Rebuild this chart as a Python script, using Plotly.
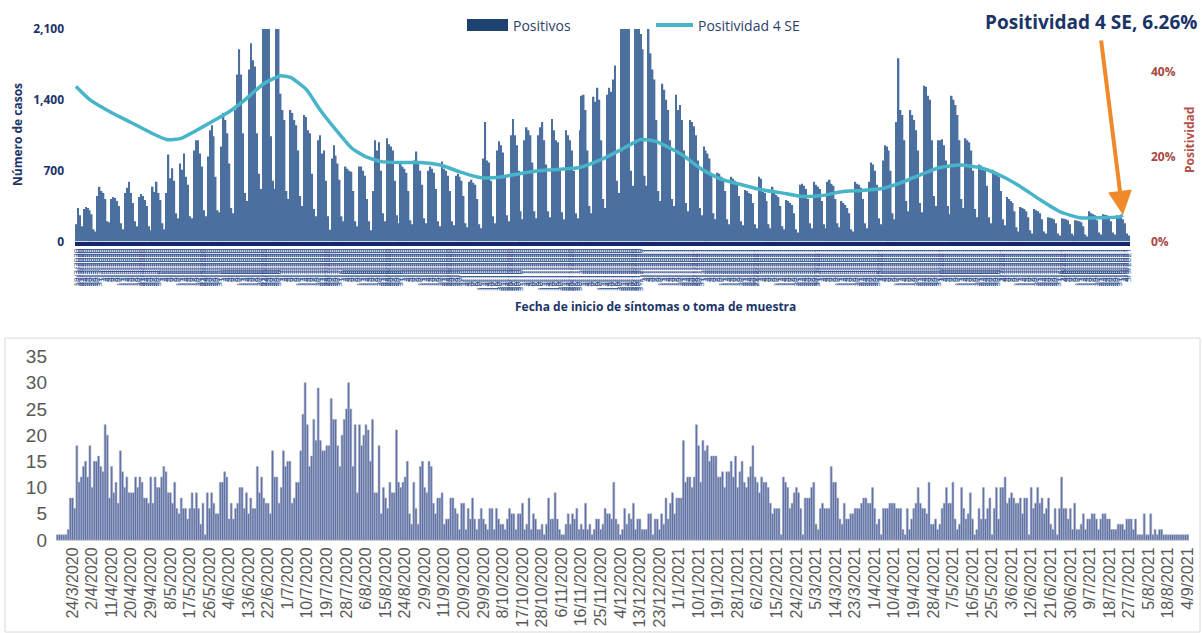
import plotly.graph_objects as go
import pandas as pd

# ---------------- TOP PANEL DATA ----------------
top_start = "2020-03-19"
positivos = [
    170, 330, 260, 150,
    320, 340, 330, 310, 270, 120, 100,
    450, 540, 500, 480, 420, 200, 190,
    420, 440, 430, 400, 350, 180, 120,
    480, 530, 590, 480, 380, 200, 150,
    440, 470, 450, 410, 350, 150, 110,
    540, 490, 590, 480, 410, 180, 120,
    480, 860, 625, 725, 600, 280, 230,
    770, 710, 870, 640, 560, 250, 230,
    900, 1000, 1000, 870, 740, 310, 250,
    840, 1100, 1150, 1040, 640, 310, 290,
    940, 1270, 1200, 1070, 770, 330, 280,
    1300, 1650, 1900, 1650, 1070, 480, 400,
    1700, 1960, 1790, 1730, 1070, 670, 520,
    2300, 2250, 2200, 2150, 1040, 600, 520,
    2200, 2150, 1460, 1300, 1200, 500, 420,
    1300, 1270, 1200, 1150, 900, 450, 350,
    1250, 1230, 1100, 1070, 670, 320, 250,
    1000, 1050, 870, 900, 600, 250, 115,
    820, 950, 850, 770, 610, 250, 200,
    740, 720, 700, 690, 500, 200, 150,
    740, 740, 700, 650, 420, 200, 110,
    500, 1000, 900, 980, 700, 280, 200,
    1020, 960, 940, 900, 600, 260, 180,
    770, 740, 720, 680, 500, 210, 170,
    800, 890, 770, 700, 560, 230, 180,
    700, 740, 720, 680, 520, 200, 150,
    790, 720, 700, 650, 500, 200, 160,
    650, 670, 640, 600, 450, 180, 140,
    590, 610, 580, 560, 420, 170, 130,
    820, 1180, 800, 780, 600, 250, 180,
    900, 990, 950, 880, 650, 260, 200,
    1050, 1210, 1050, 950, 700, 300, 220,
    1000, 1130, 1100, 1050, 780, 300, 230,
    1050, 1130, 1180, 1000, 760, 300, 240,
    1210, 1100, 1000, 980, 700, 290, 220,
    1100, 1050, 1000, 900, 700, 280, 230,
    1100, 1440, 1450, 1300, 900, 350, 280,
    1430, 1380, 1520, 1400, 1000, 420, 330,
    1450, 1520, 1480, 1600, 1740, 600, 480,
    2150, 2200, 2100, 2250, 2150, 700, 550,
    2200, 2250, 2150, 2050, 1900, 650, 550,
    2150, 1860, 1700, 1600, 1200, 500, 400,
    1560, 1500, 1400, 1300, 1000, 420, 350,
    1450, 1300, 1350, 1200, 900, 380, 300,
    1200, 1180, 1140, 1050, 800, 330, 260,
    940, 900, 870, 820, 650, 280, 220,
    680, 670, 640, 620, 500, 220, 170,
    640, 620, 600, 580, 450, 200, 160,
    510, 500, 480, 470, 380, 170, 130,
    640, 620, 490, 480, 400, 170, 130,
    540, 480, 460, 440, 350, 150, 120,
    410, 400, 380, 360, 280, 120, 90,
    560, 570, 550, 520, 420, 180, 130,
    590, 560, 540, 520, 400, 170, 130,
    590, 610, 570, 550, 420, 180, 140,
    400, 380, 360, 330, 280, 120, 100,
    590, 570, 560, 530, 420, 180, 130,
    590, 780, 760, 700, 560, 230, 170,
    800, 950, 940, 900, 700, 280, 220,
    1180, 1810, 1300, 1250, 1000, 400, 300,
    1300, 1250, 1200, 1100, 900, 380, 290,
    1540, 1530, 1440, 1400, 1000, 450, 350,
    1000, 1000, 1010, 950, 800, 350, 270,
    1440, 1400, 1350, 1250, 1000, 420, 330,
    1020, 1000, 980, 900, 700, 320, 240,
    760, 750, 730, 700, 550, 240, 180,
    710, 690, 680, 640, 500, 220, 160,
    440, 420, 400, 380, 300, 140, 100,
    340, 330, 320, 300, 240, 110, 80,
    320, 310, 300, 280, 220, 100, 80,
    240, 235, 230, 220, 180, 80, 60,
    230, 225, 220, 210, 170, 80, 60,
    210, 205, 200, 190, 150, 70, 50,
    300, 280, 270, 260, 210, 90, 70,
    270, 265, 260, 250, 200, 90, 70,
    260, 250, 240, 220, 180, 80, 60,
]
top_dates = pd.date_range(top_start, periods=len(positivos), freq="D")

pos_dates = [
    "2020-03-19", "2020-03-26", "2020-04-05", "2020-04-16", "2020-04-26", "2020-05-04",
    "2020-05-11", "2020-05-21", "2020-05-29", "2020-06-05", "2020-06-13", "2020-06-22",
    "2020-07-01", "2020-07-06", "2020-07-14", "2020-07-21", "2020-07-29", "2020-08-06",
    "2020-08-13", "2020-08-21", "2020-08-31", "2020-09-10", "2020-09-20", "2020-09-30",
    "2020-10-11", "2020-10-21", "2020-10-31", "2020-11-10", "2020-11-20", "2020-11-30",
    "2020-12-11", "2020-12-21", "2020-12-31", "2021-01-08", "2021-01-21", "2021-01-31",
    "2021-02-10", "2021-02-20", "2021-03-02", "2021-03-12", "2021-03-23", "2021-04-02",
    "2021-04-12", "2021-04-22", "2021-05-02", "2021-05-12", "2021-05-22", "2021-06-01",
    "2021-06-11", "2021-06-21", "2021-07-01", "2021-07-12", "2021-07-22", "2021-08-01",
    "2021-08-11", "2021-08-21", "2021-08-31", "2021-09-02",
]
positividad = [
    36.5, 33.4, 30.6, 28.0, 25.6, 24.0,
    24.2, 26.6, 28.7, 30.6, 33.4, 37.0,
    39.0, 38.6, 35.8, 31.0, 26.3, 22.0,
    20.0, 18.8, 18.6, 18.6, 18.0, 16.4,
    15.0, 15.2, 16.0, 16.7, 17.0, 17.4,
    19.3, 21.6, 24.0, 23.5, 20.4, 17.0,
    14.6, 13.4, 12.2, 11.5, 10.6, 10.8,
    11.7, 12.0, 12.4, 13.8, 15.7, 17.4,
    18.0, 17.4, 15.7, 12.9, 9.8, 7.0,
    5.6, 5.6, 5.8, 6.26,
]
last_positividad = positividad[-1]

# ---------------- BOTTOM PANEL DATA ----------------
daily = [
    1, 1, 1, 1, 1, 2, 8, 8, 6, 18,
    11, 12, 14, 15, 12, 18, 10, 15, 15, 16,
    14, 13, 22, 20, 8, 14, 9, 11, 7, 17,
    13, 10, 12, 9, 9, 9, 12, 10, 12, 11,
    8, 8, 7, 12, 7, 12, 10, 10, 12, 14,
    13, 9, 9, 7, 11, 6, 5, 8, 6, 6,
    4, 6, 9, 6, 9, 6, 3, 7, 1, 9,
    6, 9, 7, 5, 5, 11, 11, 13, 12, 4,
    7, 4, 6, 7, 10, 10, 6, 9, 5, 8,
    6, 6, 14, 9, 12, 8, 7, 7, 5, 17,
    12, 12, 7, 10, 17, 14, 15, 15, 7, 8,
    11, 11, 17, 24, 30, 22, 14, 16, 23, 19,
    29, 19, 17, 17, 18, 18, 27, 23, 23, 18,
    14, 20, 23, 25, 30, 25, 14, 22, 9, 22,
    18, 20, 22, 21, 15, 23, 9, 9, 18, 5,
    10, 8, 6, 11, 9, 9, 21, 11, 10, 11,
    12, 15, 5, 3, 11, 6, 3, 14, 15,
    10, 9, 15, 14, 7, 5, 8, 8, 9,
    3, 4, 4, 8, 8, 6, 5, 2, 7,
    7, 2, 6, 4, 8, 4, 2, 4, 6,
    4, 3, 2, 6, 6, 2, 6, 4, 3,
    3, 2, 4, 6, 5, 5, 2, 5, 5,
    7, 2, 3, 8, 2, 5, 4, 2, 2,
    3, 1, 3, 8, 4, 4, 9, 4, 2,
    1, 1, 3, 5, 3, 5, 4, 6, 2,
    3, 2, 7, 2, 3, 1, 2, 4, 4,
    2, 3, 6, 5, 5, 4, 11, 4, 3,
    1, 2, 6, 3, 5, 4, 7, 2, 4,
    4, 2, 2, 2, 5, 5, 1, 4, 4,
    2, 5, 3, 8, 4, 7, 9, 5, 8,
    8, 8, 19, 11, 12, 12, 10, 12, 22,
    18, 11, 19, 17, 18, 15, 16, 16, 16,
    12, 12, 13, 10, 13, 13, 15, 12, 16,
    10, 13, 15, 11, 10, 12, 14, 18, 12,
    11, 9, 12, 11, 11, 10, 7, 5, 6,
    6, 6, 1, 12, 11, 10, 6, 7, 9,
    10, 9, 6, 1, 8, 8, 8, 10, 11,
    3, 2, 6, 7, 6, 6, 6, 14, 11,
    11, 8, 4, 3, 7, 4, 4, 5, 5,
    6, 6, 6, 7, 8, 8, 7, 7, 10,
    6, 3, 4, 1, 6, 6, 6, 7, 7,
    7, 6, 6, 6, 2, 1, 6, 2, 4,
    6, 7, 10, 7, 6, 6, 5, 11, 3,
    3, 4, 2, 3, 6, 7, 10, 7, 7,
    11, 4, 2, 3, 10, 6, 4, 5, 9,
    4, 1, 2, 6, 4, 10, 4, 6, 8,
    1, 6, 10, 4, 10, 10, 12, 7, 8,
    9, 8, 7, 7, 8, 5, 8, 8, 1,
    10, 6, 7, 10, 7, 8, 5, 6, 8,
    3, 2, 6, 1, 6, 12, 6, 6, 4,
    6, 2, 7, 2, 2, 3, 5, 2, 4,
    4, 5, 5, 4, 2, 4, 5, 5, 4,
    4, 2, 2, 2, 3, 3, 3, 2, 4,
    4, 4, 2, 4, 1, 1, 1, 5, 1,
    1, 5, 1, 2, 1, 2, 2, 1, 1,
    1, 1, 1, 1, 1, 1, 1, 1, 1,
    1,
]
bottom_labels = [
    "24/3/2020", "2/4/2020", "11/4/2020", "20/4/2020", "29/4/2020", "8/5/2020",
    "17/5/2020", "26/5/2020", "4/6/2020", "13/6/2020", "22/6/2020", "1/7/2020",
    "10/7/2020", "19/7/2020", "28/7/2020", "6/8/2020", "15/8/2020", "24/8/2020",
    "2/9/2020", "11/9/2020", "20/9/2020", "29/9/2020", "8/10/2020", "17/10/2020",
    "28/10/2020", "6/11/2020", "16/11/2020", "25/11/2020", "4/12/2020", "13/12/2020",
    "23/12/2020", "1/1/2021", "10/1/2021", "19/1/2021", "28/1/2021", "6/2/2021",
    "15/2/2021", "24/2/2021", "5/3/2021", "14/3/2021", "23/3/2021", "1/4/2021",
    "10/4/2021", "19/4/2021", "28/4/2021", "7/5/2021", "16/5/2021", "25/5/2021",
    "3/6/2021", "12/6/2021", "21/6/2021", "30/6/2021", "9/7/2021", "18/7/2021",
    "27/7/2021", "5/8/2021", "18/8/2021", "4/9/2021",
]
first_label_index = 7
label_step = 9

# ---------------- FIGURE ----------------
W, H = 1203, 633
NAVY = "#1b3468"
LEGEND_TXT = "#2b3f6b"
FONT = "Open Sans"

def px_x(p):
    return p / W

def px_y(p):
    return 1 - p / H

fig = go.Figure()

fig.add_trace(go.Bar(
    x=top_dates, y=positivos, marker=dict(color="#4b70a0", line=dict(width=0)),
    name="Positivos", showlegend=False, xaxis="x", yaxis="y",
))
fig.add_trace(go.Scatter(
    x=pd.to_datetime(pos_dates), y=positividad, mode="lines", name="Positividad 4 SE",
    line=dict(color="#47b4c9", width=3.5, shape="spline", smoothing=0.5),
    xaxis="x", yaxis="y2", showlegend=False,
))

bx = list(range(len(daily)))
fig.add_trace(go.Bar(
    x=bx, y=daily, showlegend=False, xaxis="x3", yaxis="y3", width=0.88,
    marker=dict(color="#5a6da8", line=dict(color="#a4acbf", width=0.6)),
))

tick_idx = [first_label_index + label_step * k for k in range(len(bottom_labels))]

fig.update_layout(
    width=W, height=H,
    margin=dict(l=0, r=0, t=0, b=0, autoexpand=False),
    paper_bgcolor="white", plot_bgcolor="white",
    bargap=0.22,
    showlegend=False,
    font=dict(family=FONT),
    xaxis=dict(
        domain=[px_x(75), px_x(1130)],
        type="date",
        range=["2020-03-18 12:00", top_dates[-1] + pd.Timedelta(hours=14)],
        dtick=86400000, tickformat="%-d/%-m/%Y", tickangle=-90,
        tickfont=dict(size=8, color="#2a4a8c"),
        showline=True, linecolor="#14286b", linewidth=4,
        showgrid=False, ticks="", anchor="y", automargin=False,
    ),
    yaxis=dict(
        domain=[px_y(241.5), px_y(29)],
        range=[0, 2100], tickvals=[0, 700, 1400, 2100], tickformat=",",
        tickfont=dict(size=12, color=NAVY, weight="bold"),
        showgrid=False, zeroline=False, showline=False, ticks="",
        ticklabelstandoff=10, anchor="x", automargin=False,
    ),
    yaxis2=dict(
        overlaying="y", side="right", range=[0, 50],
        tickvals=[0, 20, 40], ticktext=["0%", "20%", "40%"],
        tickfont=dict(size=12, color="#a8473f", weight="bold"),
        showgrid=False, zeroline=False, showline=False, ticks="",
        ticklabelstandoff=20, anchor="x", automargin=False,
    ),
    xaxis3=dict(
        domain=[px_x(56), px_x(1189)], range=[-0.6, len(daily) - 0.4],
        tickvals=tick_idx, ticktext=bottom_labels, tickangle=-90,
        tickfont=dict(size=16, color="#595959", family="Liberation Sans"),
        showline=True, linecolor="#d0d0d0", linewidth=1,
        showgrid=False, ticks="", anchor="y3", zeroline=False, automargin=False,
    ),
    yaxis3=dict(
        domain=[px_y(540), px_y(356.5)], range=[0, 35], dtick=5,
        tickfont=dict(size=19, color="#595959", family="Liberation Sans"),
        showgrid=False, zeroline=False, showline=False, ticks="",
        anchor="x3", ticklabelstandoff=8, automargin=False,
    ),
    shapes=[
        dict(type="rect", xref="paper", yref="paper",
             x0=px_x(5), x1=px_x(1200), y0=px_y(632), y1=px_y(338),
             line=dict(color="#d9d9d9", width=1)),
        dict(type="rect", xref="paper", yref="paper",
             x0=px_x(467), x1=px_x(508), y0=px_y(31), y1=px_y(19),
             fillcolor="#1e4272", line=dict(width=0)),
        dict(type="line", xref="paper", yref="paper",
             x0=px_x(656), x1=px_x(693), y0=px_y(25), y1=px_y(25),
             line=dict(color="#47b4c9", width=4)),
    ],
    annotations=[
        dict(text="Positivos", xref="paper", yref="paper",
             x=px_x(511), y=px_y(25), xanchor="left", yanchor="middle",
             showarrow=False, font=dict(size=14, color=LEGEND_TXT)),
        dict(text="Positividad 4 SE", xref="paper", yref="paper",
             x=px_x(696), y=px_y(25), xanchor="left", yanchor="middle",
             showarrow=False, font=dict(size=14, color=LEGEND_TXT)),
        dict(text="<b>Número de casos</b>", xref="paper", yref="paper",
             x=px_x(17), y=px_y(135), xanchor="center", yanchor="middle",
             textangle=-90, showarrow=False, font=dict(size=12, color=NAVY)),
        dict(text="Positividad", xref="paper", yref="paper",
             x=px_x(1189), y=px_y(140), xanchor="center", yanchor="middle",
             textangle=-90, showarrow=False,
             font=dict(size=12, color="#b5524b", weight="bold")),
        dict(text="<b>Fecha de inicio de síntomas o toma de muestra</b>",
             xref="paper", yref="paper", x=px_x(655), y=px_y(307),
             xanchor="center", yanchor="middle",
             showarrow=False, font=dict(size=12, color=NAVY)),
        dict(text="<b>Positividad 4 SE, %.2f%%</b>" % last_positividad,
             xref="paper", yref="paper", x=px_x(1091), y=px_y(22),
             xanchor="center", yanchor="middle",
             showarrow=False, font=dict(size=19, color=NAVY)),
        dict(text="", x=pd.Timestamp(pos_dates[-1]), y=last_positividad,
             xref="x", yref="y2", showarrow=True, arrowhead=2, arrowsize=1.2,
             arrowwidth=4, arrowcolor="#f0892a", ax=-22, ay=-176),
    ],
)

fig.write_html(
    "out.html",
    config={"displayModeBar": False},
    post_script="document.body.style.margin='0';document.body.style.overflow='hidden';",
)
